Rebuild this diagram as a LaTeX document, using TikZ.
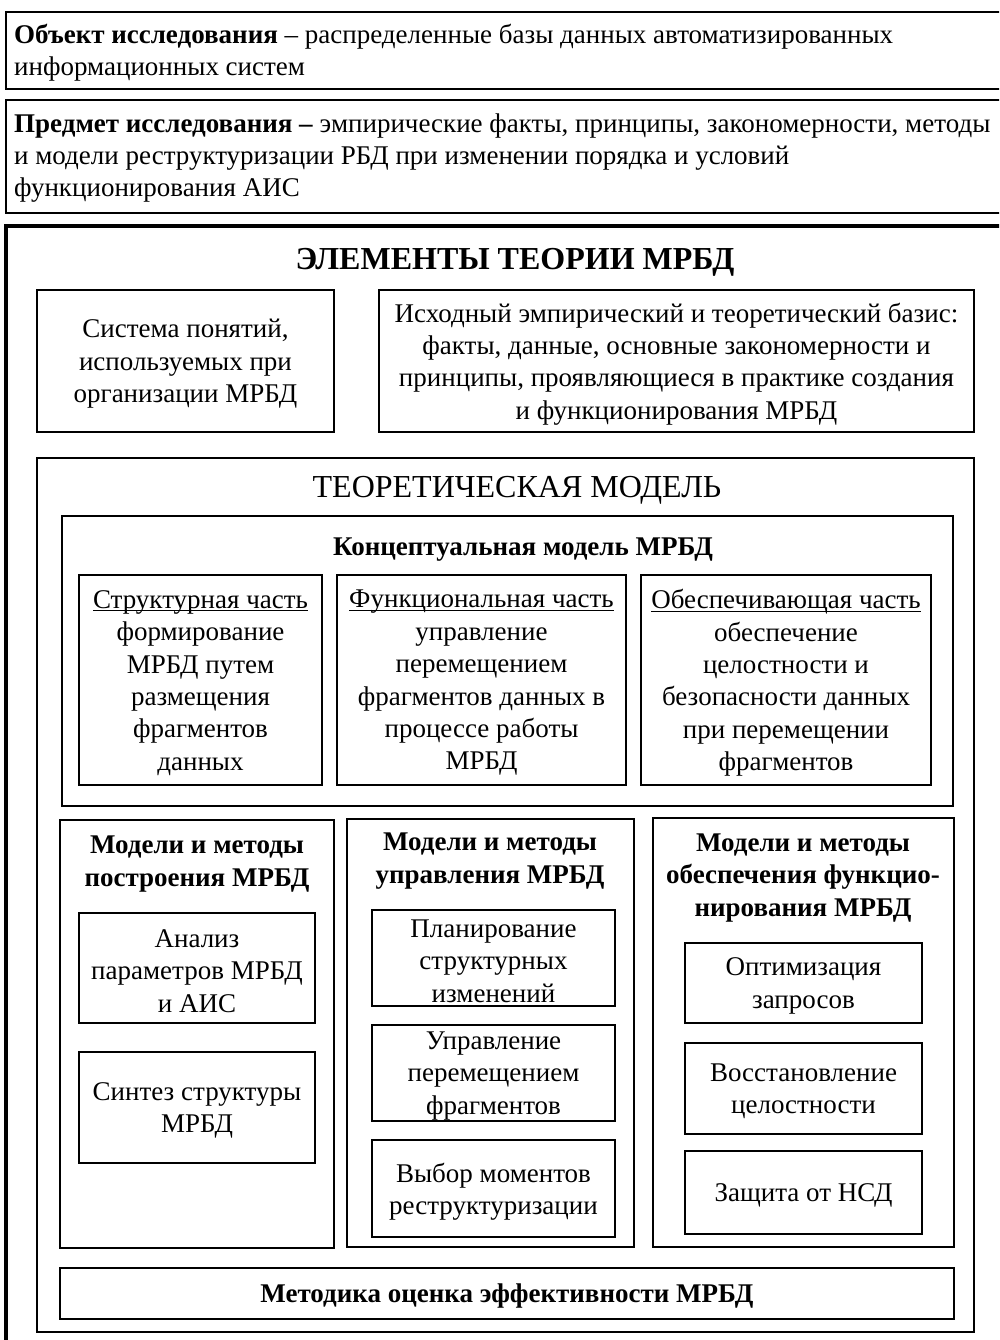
\documentclass[tikz,border=0pt]{standalone}
\usepackage{fontspec}
\setmainfont{Liberation Serif}
\newcommand\bodyfont{\fontsize{27}{32.4}\selectfont}
\newsavebox\ulbox
\newcommand\wul[1]{\sbox\ulbox{#1}\rlap{\rule[-3pt]{\wd\ulbox}{1.2pt}}\usebox\ulbox}
\newcommand\leafbox[6]{%
  \node[box, minimum width={#4-#2}, minimum height={#5-#3}]
    (#1) at ({(#2+#4)/2},{(#3+#5)/2}) {};
  \node[txt] (#1t) at ([yshift=-3pt]#1.center) {#6};}
\newcommand\emptybox[5]{%
  \node[box, minimum width={#4-#2}, minimum height={#5-#3}]
    (#1) at ({(#2+#4)/2},{(#3+#5)/2}) {};}
\begin{document}
\begin{tikzpicture}[x=1pt,y=-1pt,
  box/.style={draw, line width=1.3pt, inner sep=0pt, align=center},
  txt/.style={font=\bodyfont, align=center, inner sep=0pt},
  bld/.style={font=\bodyfont\bfseries, align=center, inner sep=0pt}]
\useasboundingbox (0,0) rectangle (999,1340);
\begin{scope}
\clip (0,0) rectangle (999,1340);
% top boxes
\emptybox{obj}{6}{12}{1012}{89}
\node[txt, align=left, anchor=west] (objt) at (14,53)
  {\textbf{Объект исследования} – распределенные базы данных автоматизированных\\информационных систем};
\emptybox{pred}{6}{100}{1012}{213}
\node[txt, align=left, anchor=west] (predt) at (14,158)
  {\textbf{Предмет исследования –} эмпирические факты, принципы, закономерности, методы\\и модели реструктуризации РБД при изменении порядка и условий\\функционирования АИС};
% thick frame
\draw[line width=4.5pt] (6,1360) -- (6,226) -- (1020,226);
\node[font=\fontsize{32}{36}\selectfont\bfseries, inner sep=0pt] (title) at (515,262) {ЭЛЕМЕНТЫ ТЕОРИИ МРБД};
\leafbox{sys}{37}{290}{334}{432}{Система понятий,\\используемых при\\организации МРБД}
\leafbox{basis}{379}{290}{974}{432}{Исходный эмпирический и теоретический базис:\\факты, данные, основные закономерности и\\принципы, проявляющиеся в практике создания\\и функционирования МРБД}
% theoretical model
\emptybox{theory}{37}{458}{974}{1332}
\node[font=\fontsize{32}{36}\selectfont, inner sep=0pt] (theoryt) at (517,490) {ТЕОРЕТИЧЕСКАЯ МОДЕЛЬ};
\emptybox{concept}{62}{516}{953}{806}
\node[bld] (conceptt) at (523,550) {Концептуальная модель МРБД};
\leafbox{struct}{79}{575}{322}{785}{\wul{Структурная часть}\\формирование\\МРБД путем\\размещения\\фрагментов\\данных}
\leafbox{func}{337}{575}{626}{785}{\wul{Функциональная часть}\\управление\\перемещением\\фрагментов данных в\\процессе работы\\МРБД}
\leafbox{prov}{641}{575}{931}{785}{\wul{Обеспечивающая часть}\\обеспечение\\целостности и\\безопасности данных\\при перемещении\\фрагментов}
% lower groups
\emptybox{build}{60}{820}{334}{1248}
\node[bld] (buildt) at (197,864) {Модели и методы\\построения МРБД};
\leafbox{analiz}{79}{913}{315}{1023}{Анализ\\параметров МРБД\\и АИС}
\leafbox{sintez}{79}{1052}{315}{1163}{Синтез структуры\\МРБД}
\emptybox{manage}{347}{819}{634}{1247}
\node[bld] (managet) at (490,861) {Модели и методы\\управления МРБД};
\leafbox{plan}{372}{910}{615}{1006}{Планирование\\структурных\\изменений}
\leafbox{uprav}{372}{1025}{615}{1121}{Управление\\перемещением\\фрагментов}
\leafbox{vybor}{372}{1140}{615}{1237}{Выбор моментов\\реструктуризации}
\emptybox{support}{653}{818}{954}{1247}
\node[bld] (supportt) at (803,878) {Модели и методы\\обеспечения функцио-\\нирования МРБД};
\leafbox{optim}{685}{943}{922}{1023}{Оптимизация\\запросов}
\leafbox{vosst}{685}{1043}{922}{1134}{Восстановление\\целостности}
\leafbox{zash}{685}{1151}{922}{1234}{Защита от НСД}
\node[box, minimum width=894, minimum height=51] (metod) at (507,1293.5) {};
\node[bld] (metodt) at ([yshift=-2pt]metod.center) {Методика оценка эффективности МРБД};
\end{scope}
\end{tikzpicture}
\end{document}
